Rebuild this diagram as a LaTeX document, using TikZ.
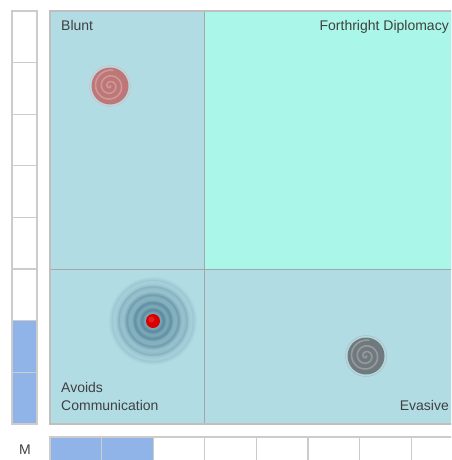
\documentclass[tikz,border=0pt]{standalone}
\usepackage{fontspec}
\setmainfont{Liberation Sans}
\begin{document}
\begin{tikzpicture}[x=1pt,y=-1pt,
  quadlabel/.style={font=\fontsize{14}{16}\selectfont, text=black!75, inner sep=0pt},
  cellline/.style={draw=black!20, line width=1.2pt},
  spiralline/.style={line width=1.6pt, line cap=round}]
\definecolor{quadblue}{RGB}{177,220,228}
\definecolor{quadteal}{RGB}{170,246,232}
\definecolor{barblue}{RGB}{144,180,232}
\definecolor{ringcol}{RGB}{55,105,130}
\definecolor{evgray}{RGB}{112,122,126}
\definecolor{bluntred}{RGB}{190,118,118}
\useasboundingbox (0,0) rectangle (451,460);
\begin{scope}
\clip (0,0) rectangle (451,460);
% left bar
\fill[white] (12,11) rectangle (37,424);
\fill[barblue] (12,321) rectangle (37,424);
\foreach \yy in {62.6,114.2,165.8,217.4,269,320.6,372.2} \draw[cellline] (12,\yy) -- (37,\yy);
\draw[cellline] (12,11) rectangle (37,424);
% bottom bar
\fill[barblue] (50,437) rectangle (153,470);
\foreach \xx in {101.6,153.2,204.8,256.4,308,359.6,411.2} \draw[cellline] (\xx,437) -- (\xx,470);
\draw[cellline] (50,470) -- (50,437) -- (470,437);
% main quadrants
\fill[quadblue] (50,11) rectangle (470,424);
\fill[quadteal] (204,11) rectangle (470,269);
\draw[black!35, line width=1pt] (204,11) -- (204,424);
\draw[black!35, line width=1pt] (50,269) -- (470,269);
\draw[black!25, line width=1.5pt] (50,11) rectangle (470,424);
% ripple target
\foreach \r/\o in {44/0.03,41/0.04,38/0.05,35/0.05,32/0.06,29/0.06,26/0.06,23/0.06,20/0.06,17/0.05,14/0.04}
  \fill[ringcol, opacity=\o] (153,321) circle (\r);
\foreach \r/\o in {11/0.32,18/0.3,26/0.22,34/0.13,41/0.06}{
  \draw[ringcol, opacity=\o*0.35, line width=5pt] (153,321) circle (\r);
  \draw[ringcol, opacity=\o*0.5, line width=3pt] (153,321) circle (\r);
  \draw[ringcol, opacity=\o*0.6, line width=1.5pt] (153,321) circle (\r);
}
\fill[red!85!black] (153,321) circle (7);
\fill[red!70!white, opacity=0.4] (151.5,319.5) circle (3);
% evasive spiral
\draw[evgray!50, line width=0.6pt] (366,356) circle (20.5);
\fill[evgray] (366,356) circle (18.5);
\draw[evgray!75!white, spiralline, shift={(366,356)}] plot[domain=0:1000, samples=120, variable=\t] ({\t}:{\t/1000*16});
% blunt spiral
\draw[bluntred!50, line width=0.6pt] (110,86) circle (20.5);
\fill[bluntred] (110,86) circle (18.5);
\draw[bluntred!75!white, spiralline, shift={(110,86)}] plot[domain=0:1000, samples=120, variable=\t] ({\t}:{\t/1000*16});
\end{scope}
% labels
\node[quadlabel, anchor=base west] (blunt) at (61,30.5) {Blunt};
\node[quadlabel, anchor=base east] (fd) at (449,30.5) {Forthright Diplomacy};
\node[quadlabel, anchor=base west] (avoid) at (61,392.5) {Avoids};
\node[quadlabel, anchor=base west] (comm) at (61,410) {Communication};
\node[quadlabel, anchor=base east] (evasive) at (449,410.5) {Evasive};
\node[quadlabel, anchor=base] (m) at (25,454.5) {M};
\end{tikzpicture}
\end{document}
